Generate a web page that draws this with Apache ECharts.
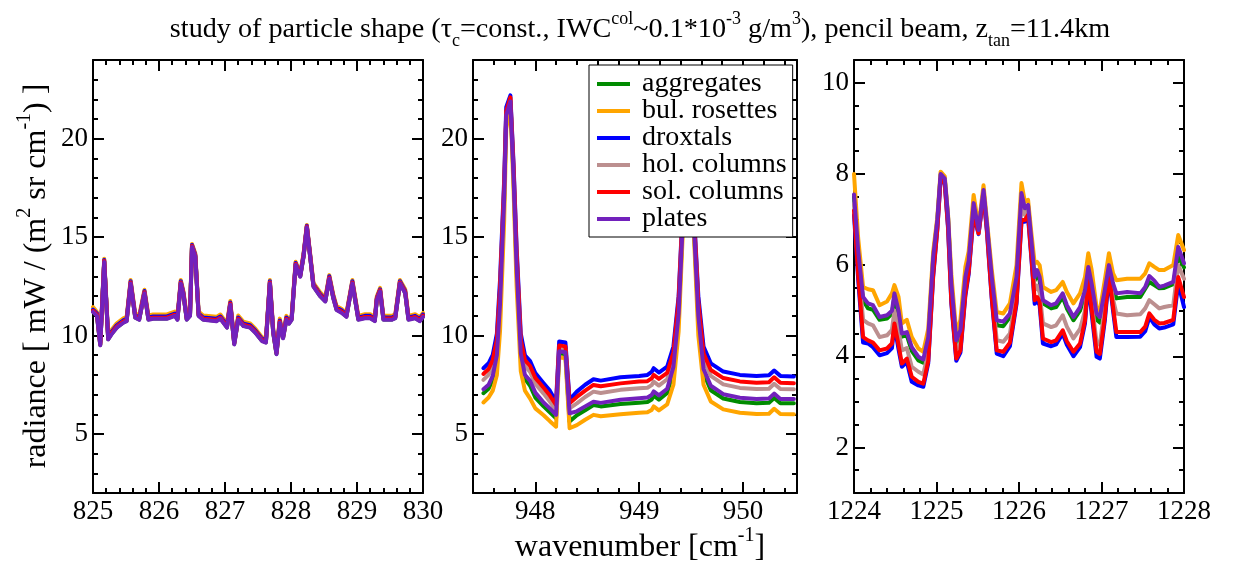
<!DOCTYPE html>
<html><head><meta charset="utf-8">
<script src="https://cdn.jsdelivr.net/npm/echarts@6/dist/echarts.min.js"></script>
<style>html,body{margin:0;padding:0;background:#fff}#c{width:1234px;height:570px}</style>
</head><body><div id="c"></div>
<script>
const seriesNames = ['aggregates','bul. rosettes','droxtals','hol. columns','sol. columns','plates'];
const seriesColors = ['#008b00','#ffa500','#0000ff','#bc8f8f','#ff0000','#7221bc'];

// ---------- panel 1 (825-830 cm-1) ----------
const panel1X = [825.00,825.06,825.11,825.17,825.23,825.28,825.36,825.46,825.51,825.57,825.64,825.70,825.78,825.84,825.91,826.12,826.24,826.28,826.33,826.37,826.42,826.47,826.50,826.55,826.60,826.67,826.87,826.93,827.03,827.08,827.14,827.20,827.28,827.38,827.46,827.56,827.62,827.68,827.73,827.78,827.83,827.88,827.93,827.97,828.01,828.07,828.14,828.19,828.24,828.29,828.34,828.44,828.52,828.58,828.64,828.69,828.77,828.84,828.93,829.02,829.12,829.20,829.27,829.30,829.35,829.40,829.53,829.58,829.65,829.73,829.78,829.88,829.95,830.00];
const panel1Aggregates = [11.22,11.02,9.52,13.76,9.82,10.08,10.42,10.67,10.75,12.67,10.92,10.82,12.17,10.82,10.87,10.87,11.02,10.82,12.67,12.09,10.82,11.02,14.52,14.02,11.02,10.82,10.75,10.87,10.42,11.59,9.57,10.82,10.5,10.42,10.16,9.74,9.66,12.67,10.16,9.07,10.67,9.88,10.82,10.62,10.82,13.6,13.01,14.02,15.52,14.02,12.51,12.02,11.75,12.92,11.92,11.32,11.17,10.97,12.67,10.82,10.9,10.9,10.75,11.82,12.26,10.82,10.82,10.9,12.67,12.17,10.82,10.9,10.75,10.97];
const panel1BulRosettes = [11.45,11.2,9.7,13.9,10.0,10.28,10.62,10.87,10.95,12.82,11.12,11.02,12.33,11.02,11.07,11.07,11.22,11.02,12.82,12.25,11.02,11.22,14.65,14.17,11.22,11.02,10.95,11.07,10.62,11.75,9.75,11.02,10.7,10.62,10.35,9.92,9.84,12.82,10.35,9.25,10.86,10.06,11.0,10.8,11.0,13.75,13.17,14.16,15.62,14.17,12.68,12.2,11.93,13.07,12.1,11.5,11.35,11.15,12.82,11.0,11.08,11.08,10.93,11.98,12.42,11.0,11.0,11.08,12.82,12.35,11.0,11.08,10.93,11.15];
const panel1Droxtals = [11.32,11.12,9.62,13.84,9.92,10.18,10.52,10.77,10.85,12.76,11.02,10.92,12.26,10.92,10.97,10.97,11.12,10.92,12.76,12.19,10.92,11.12,14.6,14.11,11.12,10.92,10.85,10.97,10.52,11.68,9.67,10.92,10.6,10.52,10.26,9.84,9.76,12.76,10.26,9.17,10.77,9.98,10.92,10.72,10.92,13.69,13.1,14.1,15.58,14.11,12.6,12.12,11.85,13.01,12.02,11.42,11.27,11.07,12.76,10.92,11.0,11.0,10.85,11.91,12.35,10.92,10.92,11.0,12.76,12.27,10.92,11.0,10.85,11.07];
const panel1HolColumns = [11.24,11.04,9.54,13.78,9.84,10.1,10.44,10.69,10.77,12.69,10.94,10.84,12.19,10.84,10.89,10.89,11.04,10.84,12.69,12.11,10.84,11.04,14.54,14.04,11.04,10.84,10.77,10.89,10.44,11.61,9.59,10.84,10.52,10.44,10.18,9.76,9.68,12.69,10.18,9.09,10.69,9.9,10.84,10.64,10.84,13.62,13.03,14.04,15.53,14.04,12.53,12.04,11.77,12.94,11.94,11.34,11.19,10.99,12.69,10.84,10.92,10.92,10.77,11.84,12.28,10.84,10.84,10.92,12.69,12.19,10.84,10.92,10.77,10.99];
const panel1SolColumns = [11.26,11.06,9.56,13.79,9.86,10.12,10.46,10.71,10.79,12.7,10.96,10.86,12.2,10.86,10.91,10.91,11.06,10.86,12.7,12.13,10.86,11.06,14.55,14.05,11.06,10.86,10.79,10.91,10.46,11.63,9.61,10.86,10.54,10.46,10.2,9.78,9.7,12.7,10.2,9.11,10.71,9.92,10.86,10.66,10.86,13.63,13.04,14.05,15.54,14.05,12.55,12.06,11.79,12.95,11.96,11.36,11.21,11.01,12.7,10.86,10.94,10.94,10.79,11.86,12.3,10.86,10.86,10.94,12.7,12.21,10.86,10.94,10.79,11.01];
const panel1Plates = [11.2,11.0,9.5,13.74,9.8,10.06,10.4,10.65,10.73,12.65,10.9,10.8,12.15,10.8,10.85,10.85,11.0,10.8,12.65,12.07,10.8,11.0,14.5,14.0,11.0,10.8,10.73,10.85,10.4,11.57,9.55,10.8,10.48,10.4,10.14,9.72,9.64,12.65,10.14,9.05,10.65,9.86,10.8,10.6,10.8,13.58,12.99,14.0,15.5,14.0,12.49,12.0,11.73,12.9,11.9,11.3,11.15,10.95,12.65,10.8,10.88,10.88,10.73,11.8,12.24,10.8,10.8,10.88,12.65,12.15,10.8,10.88,10.73,10.95];

// ---------- panel 2 (947.4-950.5 cm-1) ----------
const panel2X = [947.50,947.55,947.59,947.63,947.66,947.70,947.72,947.76,947.79,947.82,947.86,947.90,947.95,948.00,948.08,948.14,948.20,948.23,948.29,948.33,948.40,948.48,948.56,948.63,948.82,949.00,949.08,949.12,949.14,949.19,949.27,949.33,949.38,949.42,949.45,949.49,949.53,949.57,949.62,949.69,949.81,949.97,950.13,950.25,950.30,950.36,950.49];
const panel2Aggregates = [7.07,7.3,7.75,8.8,11.4,16.9,21.1,21.9,18.1,13.3,8.9,7.8,7.45,6.85,6.4,6.1,5.8,9.1,9.05,5.63,5.95,6.2,6.47,6.4,6.52,6.59,6.62,6.75,6.94,6.74,7.08,8.2,10.9,15.7,20.5,21.1,15.2,10.8,8.1,7.22,6.8,6.62,6.56,6.58,6.83,6.56,6.56];
const panel2BulRosettes = [6.6,6.85,7.2,8.0,10.2,15.8,20.5,21.7,17.5,12.5,8.2,7.2,6.8,6.3,5.95,5.65,5.37,8.9,8.85,5.29,5.45,5.72,5.97,5.9,6.0,6.08,6.1,6.22,6.4,6.2,6.5,7.5,10.2,15.2,20.2,21.0,14.8,10.0,7.5,6.65,6.25,6.08,6.01,6.03,6.28,6.01,6.0];
const panel2Droxtals = [8.34,8.59,9.02,10.1,12.8,17.9,21.6,22.2,18.8,14.5,10.1,9.0,8.7,8.1,7.58,7.2,6.64,9.7,9.65,6.73,7.15,7.5,7.78,7.71,7.88,7.95,8.0,8.15,8.34,8.12,8.42,9.44,12.0,16.5,21.0,21.5,16.0,12.0,9.44,8.59,8.17,8.0,7.95,7.98,8.22,7.95,7.92];
const panel2HolColumns = [7.75,8.0,8.45,9.5,12.1,17.3,21.3,22.0,18.4,13.9,9.5,8.45,8.15,7.55,7.05,6.65,6.2,9.3,9.3,6.3,6.55,6.88,7.15,7.08,7.24,7.32,7.35,7.48,7.66,7.46,7.78,8.85,11.5,16.1,20.8,21.3,15.6,11.4,8.8,7.95,7.52,7.34,7.28,7.3,7.55,7.28,7.27];
const panel2SolColumns = [8.05,8.3,8.75,9.8,12.4,17.6,21.4,22.1,18.6,14.2,9.8,8.75,8.45,7.85,7.35,6.95,6.47,9.5,9.45,6.56,6.88,7.2,7.49,7.42,7.57,7.66,7.68,7.82,8.0,7.8,8.1,9.15,11.8,16.3,20.9,21.4,15.8,11.7,9.1,8.25,7.84,7.67,7.6,7.63,7.88,7.6,7.58];
const panel2Plates = [7.27,7.5,7.95,9.0,11.6,17.0,21.2,21.9,18.2,13.5,9.1,8.0,7.7,7.1,6.6,6.3,5.97,9.2,9.15,6.05,6.15,6.4,6.64,6.58,6.74,6.81,6.85,6.98,7.16,6.96,7.3,8.4,11.1,15.8,20.6,21.2,15.3,11.0,8.3,7.45,7.02,6.84,6.78,6.8,7.05,6.78,6.78];

// ---------- panel 3 (1224-1228 cm-1) ----------
const panel3X = [1224.00,1224.05,1224.11,1224.17,1224.23,1224.31,1224.40,1224.46,1224.49,1224.54,1224.58,1224.64,1224.70,1224.78,1224.84,1224.90,1224.96,1225.01,1225.05,1225.10,1225.14,1225.18,1225.24,1225.29,1225.35,1225.39,1225.45,1225.51,1225.57,1225.61,1225.67,1225.73,1225.81,1225.89,1225.97,1226.03,1226.07,1226.11,1226.15,1226.19,1226.22,1226.25,1226.29,1226.39,1226.45,1226.53,1226.58,1226.66,1226.74,1226.80,1226.84,1226.88,1226.94,1226.98,1227.04,1227.09,1227.14,1227.18,1227.31,1227.47,1227.53,1227.58,1227.64,1227.70,1227.76,1227.87,1227.93,1228.00];
const panel3Aggregates = [7.5,6.25,5.23,5.05,5.02,4.8,4.83,4.93,5.3,4.92,4.43,4.46,4.12,3.91,3.86,4.36,6.15,6.97,7.98,7.88,7.03,5.55,4.28,4.5,5.68,6.05,7.33,6.74,7.63,6.9,5.68,4.68,4.66,4.86,5.68,7.55,7.22,7.3,6.5,5.66,5.8,5.66,5.16,5.05,5.08,5.3,5.05,4.79,5.0,5.38,5.9,5.52,4.8,4.74,5.37,5.93,5.52,5.27,5.3,5.3,5.48,5.63,5.56,5.49,5.5,5.58,6.2,5.95];
const panel3BulRosettes = [8.0,6.6,5.52,5.47,5.45,5.12,5.2,5.38,5.56,5.3,4.72,4.8,4.42,4.17,4.1,4.6,6.3,7.05,8.05,7.95,7.1,5.8,4.5,4.8,5.96,6.3,7.54,6.85,7.75,7.0,5.9,4.97,4.94,5.16,6.0,7.8,7.4,7.43,6.7,6.04,6.07,6.0,5.52,5.41,5.45,5.63,5.41,5.16,5.38,5.74,6.26,5.9,5.08,5.0,5.67,6.26,5.82,5.67,5.7,5.7,5.82,6.04,5.96,5.89,5.89,6.0,6.66,6.33];
const panel3Droxtals = [7.1,5.7,4.3,4.28,4.2,4.02,4.07,4.18,4.68,4.15,3.77,3.88,3.44,3.36,3.33,3.85,5.75,6.78,7.88,7.78,6.8,5.15,3.9,4.08,5.33,5.8,7.1,6.68,7.52,6.75,5.25,4.06,4.0,4.22,5.15,6.95,6.95,7.05,6.15,5.15,5.22,5.12,4.28,4.22,4.26,4.5,4.25,4.0,4.2,4.72,5.6,4.95,3.99,3.95,4.78,5.75,5.0,4.42,4.42,4.43,4.55,4.86,4.7,4.61,4.63,4.7,5.6,5.08];
const panel3HolColumns = [7.35,6.0,4.8,4.72,4.68,4.42,4.46,4.58,5.0,4.6,4.13,4.18,3.77,3.66,3.6,4.1,6.0,6.9,7.95,7.85,6.95,5.4,4.1,4.3,5.5,5.95,7.25,6.7,7.6,6.85,5.5,4.35,4.32,4.5,5.4,7.35,7.1,7.2,6.35,5.45,5.55,5.4,4.72,4.64,4.68,4.9,4.65,4.39,4.6,5.0,5.8,5.2,4.31,4.25,5.1,5.85,5.25,4.94,4.9,4.92,5.05,5.23,5.14,5.05,5.08,5.12,6.0,5.7];
const panel3SolColumns = [7.2,5.8,4.42,4.35,4.3,4.13,4.17,4.28,4.72,4.25,3.84,3.95,3.55,3.44,3.4,3.9,5.8,6.8,7.9,7.8,6.85,5.2,3.95,4.13,5.38,5.85,7.15,6.7,7.55,6.8,5.3,4.13,4.1,4.3,5.2,6.99,6.99,7.1,6.2,5.23,5.3,5.2,4.39,4.31,4.35,4.57,4.33,4.1,4.28,4.79,5.74,5.05,4.1,4.05,4.86,5.82,5.08,4.53,4.53,4.53,4.65,4.94,4.8,4.72,4.73,4.8,5.74,5.3];
const panel3Plates = [7.55,6.33,5.3,5.16,5.12,4.86,4.9,5.0,5.38,5.0,4.5,4.53,4.2,3.99,3.93,4.42,6.18,6.99,8.0,7.9,7.06,5.6,4.35,4.57,5.74,6.1,7.36,6.77,7.65,6.92,5.74,4.79,4.76,4.94,5.74,7.58,7.25,7.32,6.55,5.74,5.89,5.74,5.23,5.12,5.16,5.38,5.12,4.86,5.08,5.45,5.96,5.6,4.94,4.86,5.45,6.0,5.6,5.38,5.41,5.38,5.52,5.76,5.66,5.52,5.55,5.63,6.4,6.04];

// ---------- axes ----------
const xMajorTicks = [[825,826,827,828,829,830],[948,949,950],[1224,1225,1226,1227,1228]];
const yMajorTicks = [[5,10,15,20],[5,10,15,20],[2,4,6,8,10]];
const xRanges = [[825,830],[947.4,950.52],[1224,1228]];
const yRanges = [[2,24],[2,24],[1,10.5]];
const xMinorStep = [0.2,0.2,0.2];
const yMinorStep = [1,1,0.5];

const panelX = [panel1X, panel2X, panel3X];
const panelY = [
  [panel1Aggregates,panel1BulRosettes,panel1Droxtals,panel1HolColumns,panel1SolColumns,panel1Plates],
  [panel2Aggregates,panel2BulRosettes,panel2Droxtals,panel2HolColumns,panel2SolColumns,panel2Plates],
  [panel3Aggregates,panel3BulRosettes,panel3Droxtals,panel3HolColumns,panel3SolColumns,panel3Plates]
];

const FONT = 'Liberation Serif';
const grids = [
  {left:93, top:60, width:330, height:433},
  {left:473, top:60, width:324, height:433},
  {left:854, top:60, width:330, height:433}
];

function minorValues(range, step, majors) {
  const out = [];
  const k0 = Math.ceil(range[0]/step - 1e-9), k1 = Math.floor(range[1]/step + 1e-9);
  for (let k = k0; k <= k1; k++) {
    const v = Math.round(k*step*1e6)/1e6;
    if (!majors.some(m => Math.abs(m - v) < 1e-6)) out.push(v);
  }
  return out;
}
const plain = v => String(Math.round(v*1000)/1000);

const xAxes = [], yAxes = [];
grids.forEach((g, gi) => {
  const xMin = minorValues(xRanges[gi], xMinorStep[gi], xMajorTicks[gi]);
  const yMin = minorValues(yRanges[gi], yMinorStep[gi], yMajorTicks[gi]);
  const defs = [
    ['bottom', true, true], ['top', true, false], ['bottom', false, false], ['top', false, false]
  ];
  defs.forEach(([pos, major, lab]) => {
    xAxes.push({
      type:'value', gridIndex:gi, position:pos, min:xRanges[gi][0], max:xRanges[gi][1],
      axisLine:{show:major, onZero:false, lineStyle:{color:'#000', width:2}},
      axisTick:{show:true, inside:true, length: major ? 11 : 5, customValues: major ? xMajorTicks[gi] : xMin, lineStyle:{color:'#000', width:2}},
      axisLabel:{show:lab, customValues:xMajorTicks[gi], formatter:plain, color:'#000', fontFamily:FONT, fontSize:27, margin:5},
      splitLine:{show:false}
    });
  });
  const ydefs = [
    ['left', true, true], ['right', true, false], ['left', false, false], ['right', false, false]
  ];
  ydefs.forEach(([pos, major, lab]) => {
    yAxes.push({
      type:'value', gridIndex:gi, position:pos, min:yRanges[gi][0], max:yRanges[gi][1],
      axisLine:{show:major, onZero:false, lineStyle:{color:'#000', width:2}},
      axisTick:{show:true, inside:true, length: major ? 11 : 5, customValues: major ? yMajorTicks[gi] : yMin, lineStyle:{color:'#000', width:2}},
      axisLabel:{show:lab, customValues:yMajorTicks[gi], formatter:plain, color:'#000', fontFamily:FONT, fontSize:27, margin:5},
      splitLine:{show:false}
    });
  });
});

const series = [];
panelX.forEach((xs, gi) => {
  panelY[gi].forEach((ys, si) => {
    series.push({
      type:'line', name:seriesNames[si], xAxisIndex:gi*4, yAxisIndex:gi*4,
      data: xs.map((x, i) => [x, ys[i]]),
      showSymbol:false, symbol:'none', animation:false,
      lineStyle:{width:4, color:seriesColors[si], join:'round', cap:'round'},
      itemStyle:{color:seriesColors[si]}
    });
  });
});

const supS = {fontSize:18, lineHeight:24, verticalAlign:'top', fontFamily:FONT, fill:'#000'};
const subS = {fontSize:18, lineHeight:24, verticalAlign:'bottom', fontFamily:FONT, fill:'#000'};

const chart = echarts.init(document.getElementById('c'), null, {renderer:'canvas'});
chart.setOption({
  backgroundColor:'#fff',
  animation:false,
  textStyle:{fontFamily:FONT},
  grid: grids,
  xAxis: xAxes,
  yAxis: yAxes,
  series: series,
  legend: {
    data: seriesNames,
    orient:'vertical', left:589, top:65,
    padding:[5,6,4,8], itemWidth:33, itemHeight:4, icon:'rect', itemGap:-1,
    formatter: n => ' ' + n,
    textStyle:{fontFamily:FONT, fontSize:28, color:'#000'},
    backgroundColor:'#fff', borderColor:'#000', borderWidth:1, borderRadius:0,
    selectedMode:false, z:10
  },
  graphic: [
    {type:'text', x:640, y:30, z:100, style:{
      text:'study of particle shape (τ{sub|c}=const., IWC{sup|col}~0.1*10{sup|-3} g/m{sup|3}), pencil beam, z{sub|tan}=11.4km',
      fontFamily:FONT, fontSize:28.2, lineHeight:40, fill:'#000', align:'center', verticalAlign:'middle',
      rich:{sup:supS, sub:subS}}},
    {type:'text', x:640, y:548, z:100, style:{
      text:'wavenumber [cm{sup|-1}]',
      fontFamily:FONT, fontSize:32, lineHeight:44, fill:'#000', align:'center', verticalAlign:'middle',
      rich:{sup:{fontSize:20, lineHeight:24, verticalAlign:'top', fontFamily:FONT, fill:'#000'}}}},
    {type:'text', x:37, y:276, rotation:Math.PI/2, z:100, style:{
      text:'radiance [ mW / (m{sup|2} sr cm{sup|-1}) ]',
      fontFamily:FONT, fontSize:32, lineHeight:44, fill:'#000', align:'center', verticalAlign:'middle',
      rich:{sup:{fontSize:20, lineHeight:24, verticalAlign:'top', fontFamily:FONT, fill:'#000'}}}}
  ]
});
</script></body></html>
